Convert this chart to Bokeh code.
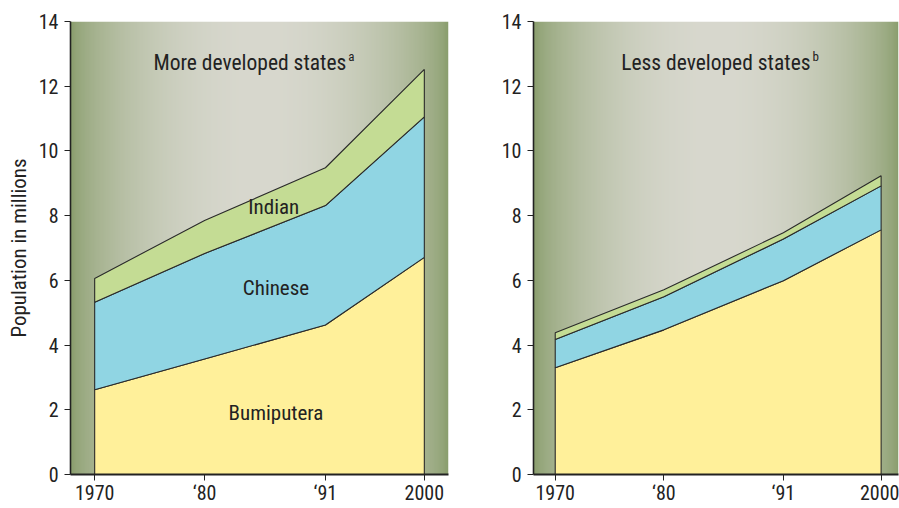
import numpy as np
from bokeh.plotting import figure
from bokeh.layouts import row
from bokeh.models import Range1d, FixedTicker
from bokeh.core.properties import value
from bokeh.embed import file_html
from bokeh.resources import INLINE

# ---------------- data ----------------
years = [1970, 1980, 1991, 2000]
x_tick_labels = ["1970", "\u201880", "\u201891", "2000"]
y_ticks = [0, 2, 4, 6, 8, 10, 12, 14]

groups = ["Bumiputera", "Chinese", "Indian"]

# More developed states (millions)
more_bumiputera = [2.62, 3.57, 4.62, 6.71]
more_chinese = [2.70, 3.26, 3.69, 4.34]
more_indian = [0.74, 1.02, 1.17, 1.47]

# Less developed states (millions)
less_bumiputera = [3.30, 4.47, 5.99, 7.56]
less_chinese = [0.87, 1.02, 1.29, 1.36]
less_indian = [0.21, 0.22, 0.19, 0.31]

titles = ["More developed states", "Less developed states"]
title_notes = ["a", "b"]

# ---------------- style ----------------
FONT_CSS = "'Roboto Condensed', 'DejaVu Sans Condensed', sans-serif"
FONT = value(FONT_CSS)
FILLS = ["#fff09a", "#90d5e3", "#c4dc94"]
EDGE = "#2a2a2a"
TXT = "#222222"


def background(p, x0, x1):
    n = 300
    t = (np.arange(n) + 0.5) / n
    w = np.sin(np.pi * t) ** 0.6
    g = np.array([134, 155, 104], dtype=float)
    l = np.array([216, 216, 206], dtype=float)
    cols = g[None, :] * (1 - w[:, None]) + l[None, :] * w[:, None]
    img = np.empty((1, n), dtype=np.uint32)
    view = img.view(dtype=np.uint8).reshape((1, n, 4))
    view[0, :, 0:3] = cols.astype(np.uint8)
    view[0, :, 3] = 255
    p.image_rgba(image=[img], x=x0, y=0, dw=x1 - x0, dh=14)


def make_panel(width, height, x0, x1, border_left, border_right, border_top,
               series, title, note, title_x, title_y, note_y, labels, show_ylabel):
    p = figure(width=width, height=height, output_backend="svg", toolbar_location=None,
               x_range=Range1d(x0, x1), y_range=Range1d(0, 14),
               min_border_left=border_left, min_border_right=border_right,
               min_border_top=border_top, min_border_bottom=10)
    p.outline_line_color = None
    p.xgrid.visible = False
    p.ygrid.visible = False
    background(p, x0, x1)

    bottom = [0.0] * len(years)
    for vals, col in zip(series, FILLS):
        top = [b + v for b, v in zip(bottom, vals)]
        xs = years + years[::-1]
        ys = top + bottom[::-1]
        p.patch(xs, ys, fill_color=col, line_color=EDGE, line_width=1.1)
        bottom = top

    p.text(x=[title_x], y=[title_y], text=[title], text_font=FONT,
           text_font_size="21.5px", text_color=TXT, text_align="right",
           text_baseline="alphabetic")
    p.text(x=[title_x], y=[note_y], text=[note], text_font=FONT,
           text_font_size="13px", text_color=TXT, text_align="left",
           text_baseline="alphabetic", x_offset=2)

    for (lx, ly, lt) in labels:
        p.text(x=[lx], y=[ly], text=[lt], text_font=FONT, text_font_size="21px",
               text_color=TXT, text_align="center", text_baseline="middle")

    p.xaxis.ticker = FixedTicker(ticks=years)
    p.xaxis.major_label_overrides = dict(zip(years, x_tick_labels))
    p.yaxis.ticker = FixedTicker(ticks=y_ticks)
    for ax in (p.xaxis, p.yaxis):
        ax.major_label_text_font = FONT_CSS
        ax.major_label_text_font_size = "20px"
        ax.major_label_text_color = TXT
        ax.major_tick_out = 6
        ax.major_tick_in = 0
        ax.minor_tick_line_color = None
        ax.major_tick_line_color = TXT
        ax.axis_line_color = TXT
    p.xaxis.axis_line_width = 2.2
    p.yaxis.axis_line_width = 1.6
    p.xaxis.major_label_standoff = 0
    p.yaxis.major_label_standoff = 6
    if show_ylabel:
        p.yaxis.axis_label = "Population in millions"
        p.yaxis.axis_label_text_font = FONT_CSS
        p.yaxis.axis_label_text_font_size = "21px"
        p.yaxis.axis_label_text_font_style = "normal"
        p.yaxis.axis_label_text_color = TXT
        p.yaxis.axis_label_standoff = 5
    return p


left = make_panel(452, 507, 1967.8, 2002.2, 70, 4, 21,
                  [more_bumiputera, more_chinese, more_indian],
                  titles[0], title_notes[0], 1992.9, 12.74, 12.93,
                  [(1986.3, 8.28, "Indian"), (1986.5, 5.75, "Chinese"),
                   (1986.5, 1.9, "Bumiputera")], True)

right = make_panel(447, 507, 1968.0, 2001.6, 81, 1, 21,
                   [less_bumiputera, less_chinese, less_indian],
                   titles[1], title_notes[1], 1993.5, 12.72, 12.92,
                   [], False)

layout = row(left, right)
open("out.html", "w").write(file_html(layout, INLINE))
